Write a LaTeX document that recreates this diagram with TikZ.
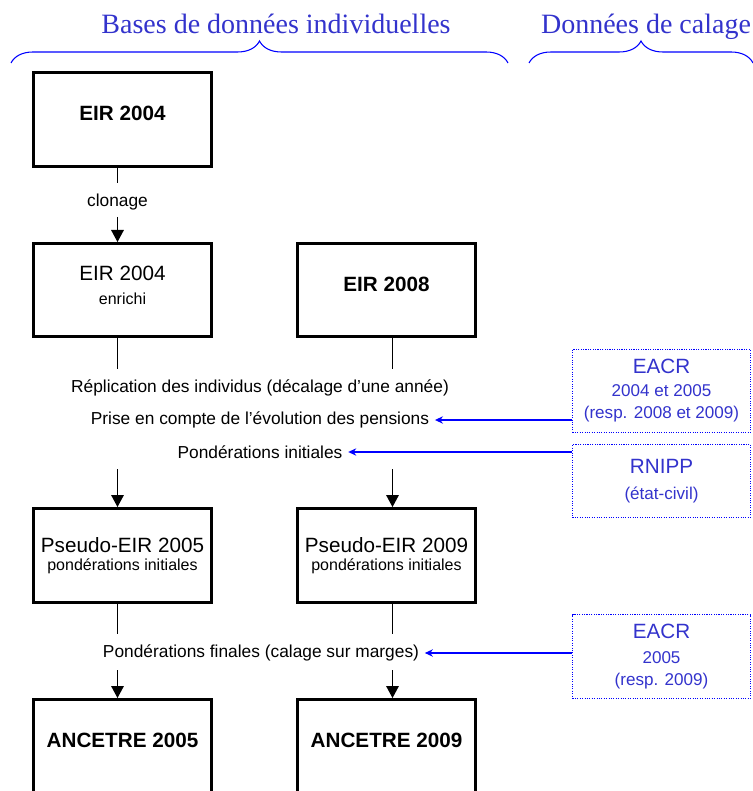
\documentclass[tikz,border=0pt]{standalone}
\usepackage{fontspec}
\setmainfont{Liberation Serif}
\setsansfont{Liberation Sans}
\usepackage{tikz}
\usetikzlibrary{arrows.meta,positioning,decorations.pathreplacing}
\definecolor{calblue}{RGB}{51,51,204}
\newcommand\grand{\fontsize{15.5}{18}\selectfont}
\newcommand\petit{\fontsize{12}{14}\selectfont}
\tikzstyle{base}=[draw, line width=2.3pt, minimum width=133.45pt, minimum height=70.45pt, align=center, font=\sffamily\petit]
\tikzstyle{titrebase}=[base, text depth=9pt, font=\sffamily\grand\bfseries]
\tikzstyle{source}=[draw=blue, densely dotted, line width=.8pt, minimum width=133.45pt, align=center, text=calblue, font=\sffamily\fontsize{12.8}{16.5}\selectfont]
\tikzstyle{etape}=[align=center, inner xsep=4pt, font=\sffamily\fontsize{13}{15}\selectfont]
\tikzstyle{titre}=[text=calblue, anchor=base, font=\fontsize{21}{24}\selectfont]
\tikzstyle{accolade}=[draw=blue, line width=.8pt, decorate, decoration={brace,amplitude=16.5pt}]
\tikzstyle{bleu}=[draw=blue, line width=1pt, -{Stealth[length=6pt,width=5.5pt]}]

\begin{document}
\begin{tikzpicture}[x=.75pt,y=-.75pt,>={Triangle[length=9pt,width=9.5pt]},line width=.75pt]
\useasboundingbox (0,0) rectangle (752,791);
% titres
\node [titre] (tbases) at (276,34) {Bases de donn\'ees individuelles};
\node [titre] (tcalage) at (646,34) {Donn\'ees de calage};
\draw [accolade] (11,63) -- (508,63);
\draw [accolade] (529,63) -- (753,63);
% bases individuelles
\node [titrebase] (eir04) at (122.5,119.5) {EIR 2004};
\node [base, minimum height=69.7pt, text depth=7pt, below=55.5pt of eir04] (enrichi) {{\grand EIR 2004}\\[4pt]enrichi};
\node [titrebase, minimum height=69.7pt, right=62.25pt of enrichi] (eir08) {EIR 2008};
\node [base, below=126.75pt of enrichi] (pseudo05) {{\grand Pseudo-EIR 2005}\\[-.5pt]pond\'erations initiales};
\node [base, right=62.25pt of pseudo05] (pseudo09) {{\grand Pseudo-EIR 2009}\\[-.5pt]pond\'erations initiales};
\node [titrebase, below=70.5pt of pseudo05] (anc05) {ANCETRE 2005};
\node [titrebase, right=62.25pt of anc05] (anc09) {ANCETRE 2009};
% etapes
\node [etape] (clonage) at (117.5,202) {clonage};
\node [etape] (repl) at (260,388) {R\'eplication des individus (d\'ecalage d'une ann\'ee)};
\node [etape] (prise) at (260,420) {Prise en compte de l'\'evolution des pensions};
\node [etape] (pondinit) at (260,452) {Pond\'erations initiales};
\node [etape] (finales) at (261,653) {Pond\'erations finales (calage sur marges)};
% donnees de calage
\node [source, minimum height=62.2pt] (eacr1) at (661.5,391) {{\grand EACR}\\[.75pt]2004 et 2005\\(resp. 2008 et 2009)};
\node [source, minimum height=54.7pt] (rnipp) at (661.5,481) {{\grand RNIPP}\\[3pt](\'etat-civil)};
\node [source, minimum height=62.95pt] (eacr2) at (661.5,656.5) {{\grand EACR}\\[2.25pt]2005\\(resp. 2009)};
% extremites des traits
\coordinate (cloneA) at (117.5,183);
\coordinate (cloneB) at (117.5,217);
\coordinate (replG) at (117.5,369);
\coordinate (replD) at (392.5,369);
\coordinate (initG) at (117.5,469);
\coordinate (initD) at (392.5,469);
\coordinate (finG) at (117.5,634);
\coordinate (finD) at (392.5,634);
\coordinate (calG) at (117.5,670);
\coordinate (calD) at (392.5,670);
\draw (eir04.south -| cloneA) -- (cloneA);
\draw [->] (cloneB) -- (enrichi.north -| cloneB);
\draw (enrichi.south -| replG) -- (replG);
\draw (eir08.south -| replD) -- (replD);
\draw [->] (initG) -- (pseudo05.north -| initG);
\draw [->] (initD) -- (pseudo09.north -| initD);
\draw (pseudo05.south -| finG) -- (finG);
\draw (pseudo09.south -| finD) -- (finD);
\draw [->] (calG) -- (anc05.north -| calG);
\draw [->] (calD) -- (anc09.north -| calD);
\draw [bleu] (prise.east -| eacr1.west) -- (prise.east);
\draw [bleu] (pondinit.east -| rnipp.west) -- (pondinit.east);
\draw [bleu] (finales.east -| eacr2.west) -- (finales.east);
\end{tikzpicture}
\end{document}
